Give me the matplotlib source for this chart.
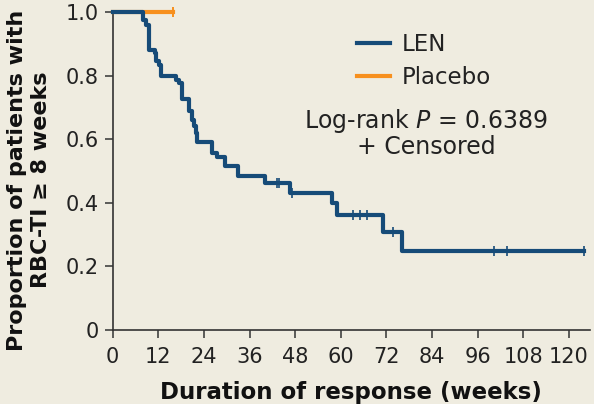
import numpy as np
import matplotlib
matplotlib.use("Agg")
import matplotlib.pyplot as plt
from matplotlib.lines import Line2D

# ---- data ----
len_times = [0, 8.0, 8.7, 9.6, 11.0, 11.5, 12.3, 12.8, 16.6, 17.5, 18.2, 20.0, 20.8,
             21.3, 21.8, 22.2, 26.0, 27.4, 29.6, 33.0, 40.1, 46.7, 57.6, 59.0, 71.2,
             76.2, 124.0]
len_surv = [1.0, 0.975, 0.96, 0.88, 0.87, 0.845, 0.833, 0.80, 0.786, 0.776, 0.725, 0.69,
            0.66, 0.64, 0.62, 0.592, 0.556, 0.544, 0.516, 0.484, 0.461, 0.432, 0.398,
            0.362, 0.307, 0.249, 0.249]
len_censor = [43.2, 43.8, 47.1, 63.3, 65.1, 66.8, 73.8, 100.3, 103.8, 124.0]

pbo_times = [0, 15.9]
pbo_surv = [1.0, 1.0]
pbo_censor = [15.9]

x_ticks = [0, 12, 24, 36, 48, 60, 72, 84, 96, 108, 120]
y_ticks = [0, 0.2, 0.4, 0.6, 0.8, 1.0]
y_ticklabels = ["0", "0.2", "0.4", "0.6", "0.8", "1.0"]

BG = "#EFECE0"
BLUE = "#164B78"
ORANGE = "#F7901E"
AX = "#333333"

fig = plt.figure(figsize=(5.94, 4.04), dpi=100, facecolor=BG)
ax = fig.add_axes([112.7/594, 74/404, (590-112.7)/594, (392-74)/404])
ax.set_facecolor(BG)

def surv_at(t, times, surv):
    idx = np.searchsorted(times, t, side="right") - 1
    return surv[idx]

ax.step(pbo_times, pbo_surv, where="post", color=ORANGE, lw=3.0, clip_on=False, zorder=3)
ax.plot(pbo_censor, [surv_at(t, pbo_times, pbo_surv) for t in pbo_censor], ls="none",
        marker="|", ms=7, mew=1.4, color=ORANGE, clip_on=False, zorder=3)

ax.step(len_times, len_surv, where="post", color=BLUE, lw=3.0, clip_on=False, zorder=4)
ax.plot(len_censor, [surv_at(t, len_times, len_surv) for t in len_censor], ls="none",
        marker="|", ms=7, mew=1.2, color=BLUE, clip_on=False, zorder=4)

ax.set_xlim(0, 125.6)
ax.set_ylim(0, 1.0)
ax.set_xticks(x_ticks)
ax.set_xticklabels([str(v) for v in x_ticks])
ax.set_yticks(y_ticks)
ax.set_yticklabels(y_ticklabels)
for s in ["top", "right"]:
    ax.spines[s].set_visible(False)
for s in ["left", "bottom"]:
    ax.spines[s].set_color(AX)
    ax.spines[s].set_linewidth(1.2)
ax.tick_params(direction="out", length=6, width=1.1, colors=AX, labelsize=15,
               labelcolor="#222222", pad=4)
ax.tick_params(axis="x", pad=6)

ax.set_xlabel("Duration of response (weeks)", fontsize=16.5, fontweight="bold",
              color="#111111", labelpad=10)
fig.text(29/594, 1 - 180/404, "Proportion of patients with\nRBC-TI \u2265 8 weeks",
         rotation=90, ha="center", va="center", fontsize=16, fontweight="bold",
         color="#111111", linespacing=1.2)

handles = [Line2D([], [], color=BLUE, lw=3.0), Line2D([], [], color=ORANGE, lw=3.0)]
ax.legend(handles, ["LEN", "Placebo"], loc="upper left",
          bbox_to_anchor=(336/594, 1 - 12/404), bbox_transform=fig.transFigure,
          frameon=False, fontsize=16.5, handlelength=1.45, handletextpad=0.5,
          labelspacing=0.45, labelcolor="#222222")

fig.text(426/594, 1 - 121/404, "Log-rank $P$ = 0.6389", ha="center", va="center",
         fontsize=17, color="#222222")
fig.text(426/594, 1 - 147/404, "+ Censored", ha="center", va="center",
         fontsize=17, color="#222222")

fig.savefig("out.png", dpi=100, facecolor=BG)
